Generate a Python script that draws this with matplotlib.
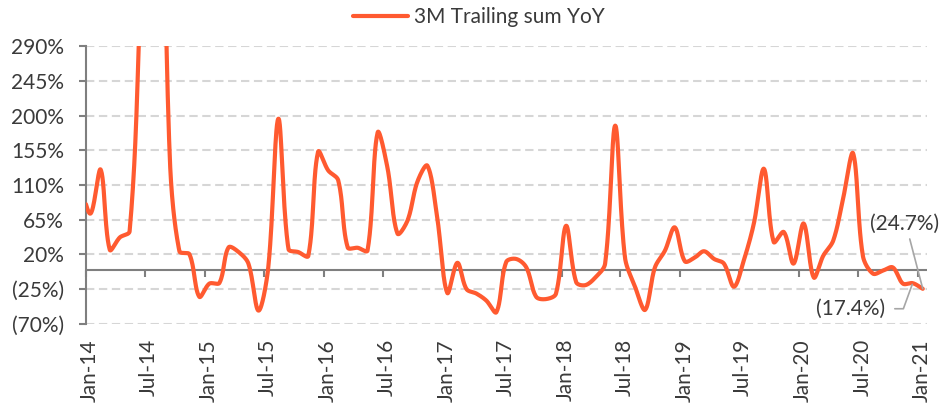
import numpy as np
import pandas as pd
import matplotlib
matplotlib.use("Agg")
import matplotlib.pyplot as plt
import matplotlib.dates as mdates
from matplotlib.ticker import FuncFormatter
from matplotlib.transforms import ScaledTranslation

# 3M trailing sum, YoY change (%), one reading per month, Dec-13 .. Jan-21
yoy_2013 = [110]
yoy_2014 = [73, 130, 26, 42, 50, 330, 800, 700, 150, 24, 20, -35]
yoy_2015 = [-18, -17, 29, 23, 8, -53, 3, 196, 27, 23, 18, 153]
yoy_2016 = [129, 116, 29, 28.5, 25, 178, 133, 47, 64, 114, 135, 68]
yoy_2017 = [-30, 9, -25, -31, -40, -55, 10, 14, 3, -35, -38, -31]
yoy_2018 = [57, -16, -20, -10, 8, 187, 16, -22, -52, 3, 25, 55]
yoy_2019 = [11, 16, 24, 14, 8, -22, 12, 60, 131, 36, 49, 8]
yoy_2020 = [60, -10, 18, 38, 92, 151, 18, -5, -1, 3, -18, -17.4]
yoy_2021 = [-24.7]

yoy = (yoy_2013 + yoy_2014 + yoy_2015 + yoy_2016 + yoy_2017
       + yoy_2018 + yoy_2019 + yoy_2020 + yoy_2021)
dates = pd.date_range("2013-12-01", periods=len(yoy), freq="MS") + pd.Timedelta(days=14)

series_name = "3M Trailing sum YoY"
y_ticks = list(range(-70, 291, 45))

ORANGE = "#FF5A30"
GREY = "#7F7F7F"
TEXT = "#3A3A3A"

plt.rcParams["font.family"] = ["Lato", "DejaVu Sans"]


def smooth_path(ax, x, y, steps=30, tension=1 / 3):
    # bezier smoothing done in screen space, control arms scaled by segment length
    pts = ax.transData.transform(np.column_stack([x, y]))
    n = len(pts)
    out = [pts[:1]]
    t = np.linspace(0, 1, steps)[1:, None]
    for i in range(n - 1):
        p0 = pts[max(i - 1, 0)]
        p1 = pts[i]
        p2 = pts[i + 1]
        p3 = pts[min(i + 2, n - 1)]
        d01 = np.hypot(*(p1 - p0))
        d12 = np.hypot(*(p2 - p1))
        d23 = np.hypot(*(p3 - p2))
        c1 = p1 + tension * (p2 - p0) * d12 / (d01 + d12)
        c2 = p2 - tension * (p3 - p1) * d12 / (d12 + d23)
        seg = ((1 - t) ** 3) * p1 + 3 * ((1 - t) ** 2) * t * c1 \
            + 3 * (1 - t) * (t ** 2) * c2 + (t ** 3) * p2
        out.append(seg)
    return ax.transData.inverted().transform(np.vstack(out))


fig = plt.figure(figsize=(9.41, 4.03), dpi=100)
ax = fig.add_axes([86 / 941, 1 - 323.7 / 403, (927 - 86) / 941, (323.7 - 46.3) / 403])

x_num = mdates.date2num(dates)
ax.set_xlim(mdates.date2num(pd.Timestamp("2014-01-01")), mdates.date2num(pd.Timestamp("2021-01-28")))
ax.set_ylim(y_ticks[0], y_ticks[-1])

curve = smooth_path(ax, x_num, yoy)
line, = ax.plot(curve[:, 0], curve[:, 1], color=ORANGE, lw=3, solid_capstyle="round", zorder=3)

# axes styling
for side in ["top", "right", "bottom"]:
    ax.spines[side].set_visible(False)
ax.spines["left"].set_color(GREY)
ax.spines["left"].set_linewidth(1.5)

ax.set_yticks(y_ticks)
ax.yaxis.set_major_formatter(FuncFormatter(
    lambda v, _: f"({abs(v):.0f}%)" if v < 0 else f"{v:.0f}%"))
ax.tick_params(axis="y", length=5, width=1.5, color=GREY, pad=11,
               labelsize=15, labelcolor=TEXT)
ax.yaxis.grid(True, color="#D6D6D6", lw=1.5, linestyle=(0, (4, 2.2)))
ax.set_axisbelow(True)

ax.xaxis.set_major_locator(mdates.MonthLocator(bymonth=[1, 7]))
ax.xaxis.set_major_formatter(mdates.DateFormatter("%b-%y"))
ax.tick_params(axis="x", length=0, pad=11, labelsize=15, labelcolor=TEXT,
               labelrotation=90)
shift = ScaledTranslation(4 / 100, 0, fig.dpi_scale_trans)
for lbl in ax.get_xticklabels():
    lbl.set_transform(lbl.get_transform() + shift)

# zero line with the month ticks hanging from it
ax.axhline(0, color=GREY, lw=1.5, zorder=2)
secax = ax.secondary_xaxis((0 - y_ticks[0]) / (y_ticks[-1] - y_ticks[0]))
secax.xaxis.set_major_locator(mdates.MonthLocator(bymonth=[1, 7]))
for sp in secax.spines.values():
    sp.set_visible(False)
secax.tick_params(axis="x", length=5, width=1.5, color=GREY,
                  labelbottom=False, labeltop=False, bottom=True, top=False)

# end-of-series call-outs
ax.annotate(f"({abs(yoy[-1]):.1f}%)", xy=(x_num[-1], yoy[-1]),
            xytext=(mdates.date2num(pd.Timestamp("2020-11-21")), 60),
            ha="center", va="center", fontsize=15, color=TEXT,
            arrowprops=dict(arrowstyle="-", color="#A6A6A6", lw=1.2,
                            shrinkA=2, shrinkB=0, relpos=(0.55, 0)),
            annotation_clip=False)
ax.annotate(f"({abs(yoy[-2]):.1f}%)", xy=(x_num[-2], yoy[-2]),
            xytext=(mdates.date2num(pd.Timestamp("2020-06-07")), -50.6),
            ha="center", va="center", fontsize=15, color=TEXT,
            arrowprops=dict(arrowstyle="-", color="#A6A6A6", lw=1.2,
                            shrinkA=5, shrinkB=1, relpos=(1, 0.5),
                            connectionstyle="angle,angleA=0,angleB=70,rad=0"),
            annotation_clip=False)

fig.legend([line], [series_name], loc="center", bbox_to_anchor=(479 / 941, 1 - 17 / 403),
           frameon=False, fontsize=15, labelcolor=TEXT, handlelength=2.6,
           handletextpad=0.3)

fig.savefig("out.png", dpi=100)
